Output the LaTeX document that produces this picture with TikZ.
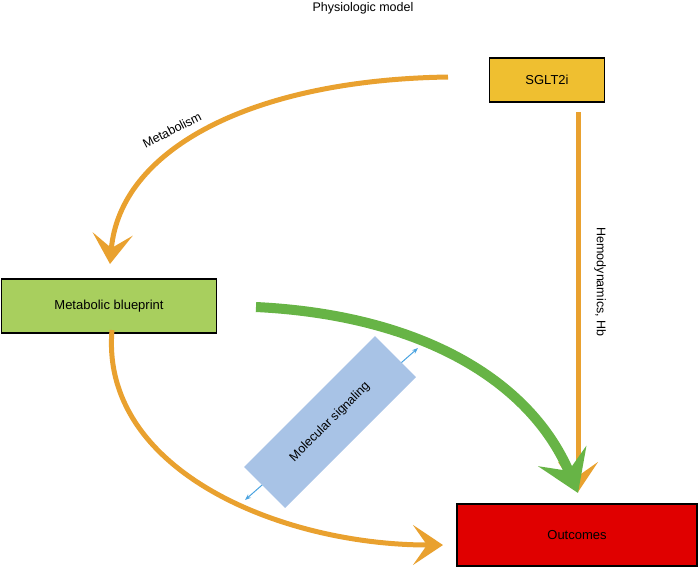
\documentclass[tikz,border=0pt]{standalone}
\usepackage{fontspec}
\setmainfont{Liberation Sans}
\usetikzlibrary{arrows.meta}
\definecolor{org}{HTML}{E9A12F}
\definecolor{grn}{HTML}{67B446}
\definecolor{gld}{HTML}{EFBF30}
\definecolor{lgr}{HTML}{A8CF5E}
\definecolor{rd}{HTML}{E00000}
\definecolor{lbl}{HTML}{A8C3E6}
\definecolor{blu}{HTML}{4AA3E0}
\begin{document}
\begin{tikzpicture}[x=1pt,y=-1pt,
  box/.style={draw=black,line width=1.2pt,minimum height=44pt,font=\fontsize{13}{15}\selectfont},
  oarr/.style={org,line width=5pt,-{Stealth[length=30pt,width=40pt,inset=14pt]}},
  lab/.style={font=\fontsize{12.5}{15}\selectfont}]
\useasboundingbox (0,0) rectangle (700,566);
\node[lab] (title) at (363,8) {Physiologic model};
\node[box,fill=gld,minimum width=115pt] (sglt) at (547,80) {SGLT2i};
\node[box,fill=lgr,minimum width=215pt,minimum height=54pt] (meta) at (109,306) {Metabolic blueprint};
\node[box,fill=rd,minimum width=240pt,minimum height=62pt] (out) at (577,535) {Outcomes};
\coordinate (m1) at (448,77);
\coordinate (m2) at (110,264);
\draw[oarr] (m1) .. controls (250,80) and (120,150) .. (m2);
\node[lab,rotate=27] (metlab) at (172,130) {Metabolism};
\coordinate (h1) at (578,112);
\coordinate (h2) at (578,492);
\draw[oarr] (h1) -- (h2);
\node[lab,rotate=-90] (hemlab) at (600,282) {Hemodynamics, Hb};
\coordinate (b1) at (112,330);
\coordinate (b2) at (443,545);
\draw[oarr] (b1) .. controls (100,470) and (280,545) .. (b2);
\coordinate (g1) at (256,307);
\coordinate (g2) at (578,493);
\draw[grn,line width=10pt,-{Stealth[length=40pt,width=52pt,inset=16pt]}] (g1) .. controls (420,315) and (530,380) .. (g2);
\coordinate (s1) at (245,500);
\coordinate (s2) at (418,348);
\draw[blu,line width=1pt,{Stealth[length=6pt]}-{Stealth[length=6pt]}] (s1) -- (s2);
\node[fill=lbl,rotate=45,minimum width=185pt,minimum height=58pt,lab] (mol) at (330,422) {Molecular signaling};
\end{tikzpicture}
\end{document}
